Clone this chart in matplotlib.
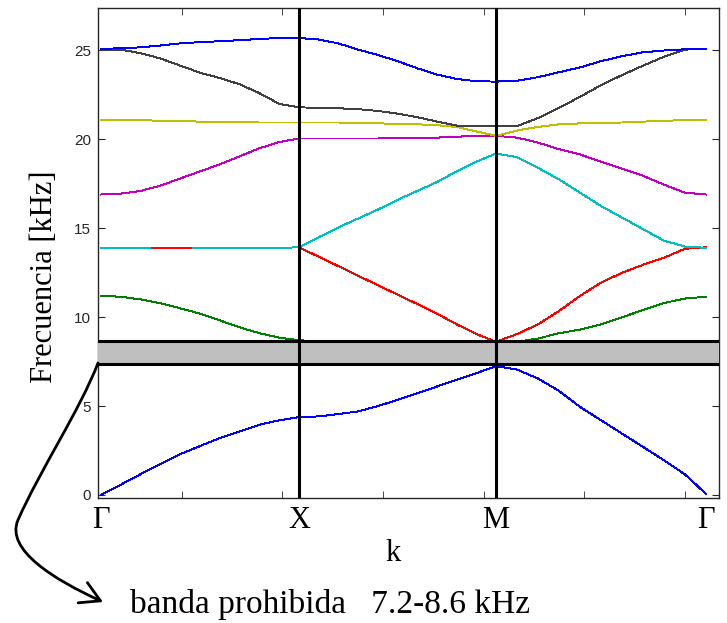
import numpy as np
import matplotlib.pyplot as plt
from matplotlib.patches import FancyArrowPatch
from matplotlib.path import Path

# high symmetry points along the path (Gamma, X, M, Gamma)
kpts = [0.0, 1.0, 1.995, 3.056]
klabels = ['Γ', 'X', 'M', 'Γ']
kminor = [0.409, 0.914, 1.424, 1.934, 2.439, 2.949]
seg_t = [0.0, 0.1, 0.2, 0.3, 0.4, 0.5, 0.6, 0.7, 0.8, 0.9, 1.0]

# bands, one list per segment (G-X, X-M, M-G), frequencies in kHz
b1_gx = [0.0, 0.58, 1.17, 1.75, 2.3, 2.75, 3.2, 3.57, 3.95, 4.2, 4.38]
b1_xm = [4.38, 4.42, 4.55, 4.7, 5.0, 5.35, 5.72, 6.1, 6.48, 6.85, 7.25]
b1_mg = [7.25, 7.05, 6.55, 5.85, 4.95, 4.2, 3.45, 2.7, 1.95, 1.15, 0.05]

b2_gx = [11.2, 11.15, 11.0, 10.78, 10.5, 10.2, 9.82, 9.43, 9.1, 8.85, 8.7]
b2_xm = [8.7, 8.65, 8.65, 8.65, 8.65, 8.65, 8.65, 8.65, 8.65, 8.62, 8.6]
b2_mg = [8.6, 8.62, 8.8, 9.1, 9.3, 9.6, 10.0, 10.4, 10.8, 11.05, 11.15]

b3_gx = [13.88, 13.88, 13.88, 13.88, 13.88, 13.88, 13.88, 13.88, 13.9, 13.9, 13.93]
b3_xm = [13.93, 13.4, 12.87, 12.33, 11.8, 11.27, 10.74, 10.2, 9.6, 9.05, 8.62]
b3_mg = [8.62, 9.05, 9.6, 10.35, 11.2, 11.95, 12.5, 12.95, 13.35, 13.85, 13.93]

b4_gx = [13.88, 13.88, 13.88, 13.88, 13.88, 13.88, 13.88, 13.88, 13.9, 13.9, 13.93]
b4_xm = [13.93, 14.5, 15.05, 15.55, 16.05, 16.6, 17.1, 17.6, 18.2, 18.75, 19.2]
b4_mg = [19.2, 19.0, 18.4, 17.75, 17.0, 16.25, 15.6, 14.95, 14.3, 13.97, 13.9]

b5_gx = [16.9, 16.95, 17.1, 17.4, 17.8, 18.2, 18.6, 19.05, 19.5, 19.85, 20.05]
b5_xm = [20.05, 20.05, 20.05, 20.05, 20.05, 20.08, 20.1, 20.1, 20.15, 20.2, 20.2]
b5_mg = [20.2, 20.1, 19.82, 19.45, 19.15, 18.75, 18.35, 17.95, 17.45, 17.0, 16.9]

b6_gx = [21.1, 21.1, 21.08, 21.05, 21.03, 21.0, 20.98, 20.96, 20.95, 20.95, 20.95]
b6_xm = [20.95, 20.95, 20.95, 20.93, 20.9, 20.88, 20.85, 20.8, 20.7, 20.45, 20.2]
b6_mg = [20.2, 20.5, 20.7, 20.85, 20.9, 20.93, 20.95, 21.0, 21.05, 21.08, 21.1]

b7_gx = [25.05, 25.05, 24.85, 24.55, 24.15, 23.75, 23.45, 23.1, 22.6, 22.0, 21.8]
b7_xm = [21.8, 21.78, 21.75, 21.7, 21.6, 21.45, 21.25, 21.0, 20.78, 20.75, 20.75]
b7_mg = [20.75, 20.75, 21.2, 21.77, 22.4, 23.05, 23.62, 24.15, 24.65, 25.05, 25.1]

b8_gx = [25.1, 25.12, 25.18, 25.28, 25.4, 25.47, 25.52, 25.58, 25.65, 25.7, 25.7]
b8_xm = [25.7, 25.62, 25.4, 25.05, 24.75, 24.4, 24.0, 23.65, 23.4, 23.27, 23.25]
b8_mg = [23.25, 23.3, 23.5, 23.78, 24.05, 24.4, 24.68, 24.9, 25.0, 25.07, 25.1]

# small stretch of band 3 that shows over band 4 near Gamma
red_seg_k = [0.258, 0.455]
red_seg_f = [13.88, 13.88]

gap_lo, gap_hi = 7.35, 8.65

bands = [
    (b1_gx, b1_xm, b1_mg, '#0000FF'),
    (b2_gx, b2_xm, b2_mg, '#008000'),
    (b3_gx, b3_xm, b3_mg, '#FF0000'),
    (b4_gx, b4_xm, b4_mg, '#00BFBF'),
    (b5_gx, b5_xm, b5_mg, '#BF00BF'),
    (b6_gx, b6_xm, b6_mg, '#BFBF00'),
    (b7_gx, b7_xm, b7_mg, '#404040'),
    (b8_gx, b8_xm, b8_mg, '#0000FF'),
]

t = np.array(seg_t)
k = np.concatenate([kpts[0] + t * (kpts[1] - kpts[0]),
                    (kpts[1] + t * (kpts[2] - kpts[1]))[1:],
                    (kpts[2] + t * (kpts[3] - kpts[2]))[1:]])

W, H = 727, 623
fig = plt.figure(figsize=(W / 100, H / 100), dpi=100)
ax = fig.add_axes([98 / W, 1 - 498 / H, 621 / W, 490 / H])

for gx, xm, mg, col in bands:
    f = np.concatenate([gx, xm[1:], mg[1:]])
    ax.plot(k, f, color=col, lw=0.7, zorder=2, antialiased=False)
ax.plot(red_seg_k, red_seg_f, color='#FF0000', lw=1.3, zorder=2, antialiased=False)

ax.axhspan(gap_lo, gap_hi, color='#BFBFBF', zorder=3)
ax.axhline(gap_lo, color='k', lw=2.2, zorder=4)
ax.axhline(gap_hi, color='k', lw=2.2, zorder=4)
ax.axvline(kpts[1], color='k', lw=2.2, zorder=4)
ax.axvline(kpts[2], color='k', lw=2.2, zorder=4)

ax.set_xlim(-0.0152, 3.121)
ax.set_ylim(-0.17, 27.39)

ax.set_yticks([0, 5, 10, 15, 20, 25])
ax.set_xticks(kpts, klabels)
ax.set_xticks(kminor, minor=True)
ax.tick_params(axis='y', direction='in', length=5, right=True, labelsize=11,
               colors='#262626', pad=5)
ax.tick_params(axis='x', which='minor', direction='in', length=5, top=True,
               color='#262626')
ax.tick_params(axis='x', which='major', length=0, pad=6, labelsize=22,
               labelfontfamily='Liberation Serif')
for lab in ax.get_yticklabels():
    lab.set_fontfamily('Liberation Sans')
for sp in ax.spines.values():
    sp.set_color('#262626')
    sp.set_linewidth(1.0)

ax.set_ylabel('Frecuencia [kHz]', fontfamily='Liberation Serif', fontsize=22)
ax.yaxis.set_label_coords(-0.0636, 0.451)
ax.set_xlabel('k', fontfamily='Liberation Serif', fontsize=22)
ax.xaxis.set_label_coords((393 - 98) / 621, (498 - 539) / 490)

fig.text(130 / W, 1 - 613 / H, 'banda prohibida   7.2-8.6 kHz',
         fontfamily='Liberation Serif', fontsize=24, va='baseline')


def fpx(x, y):
    return (x / W, 1 - y / H)


verts = [fpx(98, 363), fpx(80, 410), fpx(40, 470), fpx(18, 520),
         fpx(5, 550), fpx(55, 580), fpx(103, 602)]
codes = [Path.MOVETO] + [Path.CURVE4] * 6
arrow = FancyArrowPatch(path=Path(verts, codes), arrowstyle='->,head_length=0.7,head_width=0.4',
                        mutation_scale=20, lw=2, color='k', transform=fig.transFigure)
fig.add_artist(arrow)

fig.savefig('out.png', dpi=100)
